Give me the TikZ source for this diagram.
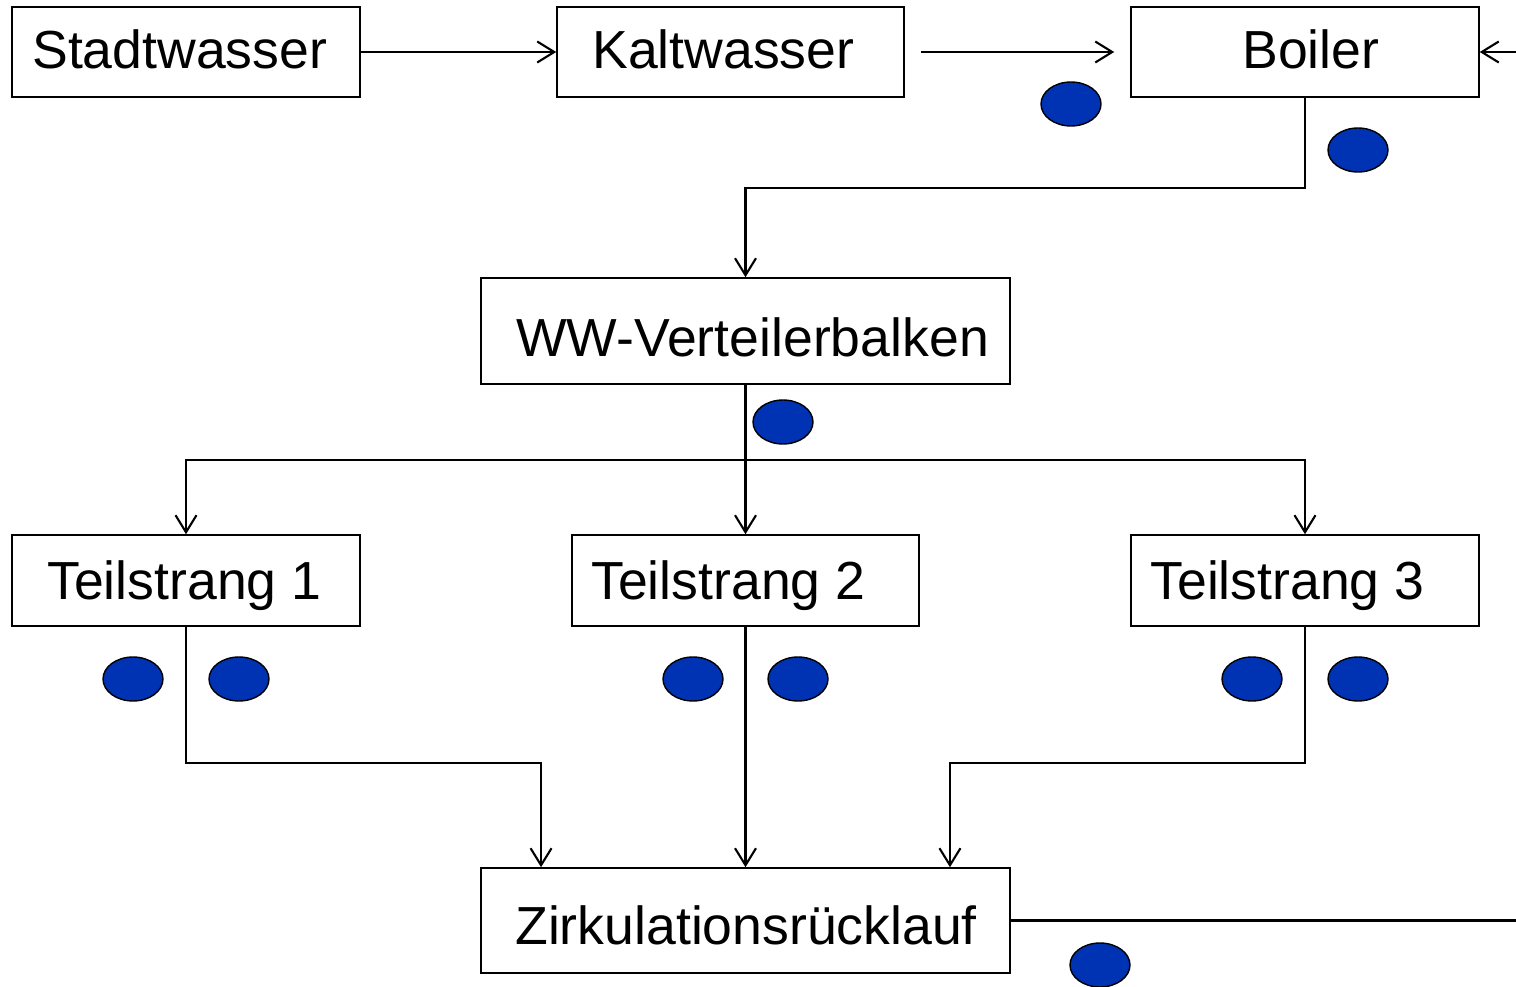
\documentclass[tikz,border=0pt]{standalone}
\usepackage{fontspec}
\setmainfont{Liberation Sans}
\usetikzlibrary{arrows.meta,shapes.geometric}
\definecolor{dotblue}{RGB}{0,51,179}
\begin{document}
\begin{tikzpicture}[x=0.02cm,y=-0.02cm,
  box/.style={draw, line width=0.9pt, inner sep=0pt},
  lbl/.style={font=\fontsize{30.5}{36}\selectfont, inner sep=0pt, anchor=base west},
  pipe/.style={line width=1.3pt},
  arr/.style={pipe, -{Straight Barb[length=0.34cm,width=0.42cm,line width=1.2pt]}},
  dot/.style={ellipse, draw, line width=0.8pt, fill=dotblue, minimum width=1.2cm, minimum height=0.88cm, inner sep=0pt}]
\useasboundingbox (0,0) rectangle (1516,987);
% boxes
\node[box, minimum width=6.96cm, minimum height=1.8cm] (st) at (186,52) {};
\node[box, minimum width=6.94cm, minimum height=1.8cm] (kw) at (730.5,52) {};
\node[box, minimum width=6.96cm, minimum height=1.8cm] (bo) at (1305,52) {};
\node[box, minimum width=10.58cm, minimum height=2.12cm] (ww) at (745.5,331) {};
\node[box, minimum width=6.96cm, minimum height=1.82cm] (t1) at (186,580.5) {};
\node[box, minimum width=6.94cm, minimum height=1.82cm] (t2) at (745.5,580.5) {};
\node[box, minimum width=6.96cm, minimum height=1.82cm] (t3) at (1305,580.5) {};
\node[box, minimum width=10.58cm, minimum height=2.1cm] (zr) at (745.5,920.5) {};
% labels
\node[lbl] (lst) at (32,69) {Stadtwasser};
\node[lbl] (lkw) at (592,69) {Kaltwasser};
\node[lbl] (lbo) at (1242,69) {Boiler};
\node[lbl] (lww) at (516,356) {WW-Verteilerbalken};
\node[lbl] (lt1) at (47,599) {Teilstrang 1};
\node[lbl] (lt2) at (591,599) {Teilstrang 2};
\node[lbl] (lt3) at (1150,599) {Teilstrang 3};
\node[lbl] (lzr) at (515,944) {Zirkulationsrücklauf};
% free ends
\coordinate (rin) at (1516,52);
\coordinate (rout) at (1516,920.5);
\coordinate (split) at (745.5,460);
% connectors
\draw[arr] (st.east) -- (kw.west);
\draw[arr] ([xshift=0.32cm]kw.east) -- ([xshift=-0.32cm]bo.west);
\draw[arr] (rin) -- (bo.east);
\draw[arr] (bo.south) -- ++(0,90) -| (ww.north);
\draw[arr] (ww.south) -- (t2.north);
\draw[arr] (split) -| (t1.north);
\draw[arr] (split) -| (t3.north);
\draw[arr] (t1.south) -- ++(0,136) -| ([xshift=-4.09cm]zr.north);
\draw[arr] (t2.south) -- (zr.north);
\draw[arr] (t3.south) -- ++(0,136) -| ([xshift=4.09cm]zr.north);
\draw[pipe] (zr.east) -- (rout);
% markers
\node[dot] (d1) at (1071,104) {};
\node[dot] (d2) at (1358,150) {};
\node[dot] (d3) at (783,422) {};
\node[dot] (d4) at (133,679) {};
\node[dot] (d5) at (239,679) {};
\node[dot] (d6) at (693,679) {};
\node[dot] (d7) at (798,679) {};
\node[dot] (d8) at (1252,679) {};
\node[dot] (d9) at (1358,679) {};
\node[dot] (d10) at (1100,965) {};
\end{tikzpicture}
\end{document}
